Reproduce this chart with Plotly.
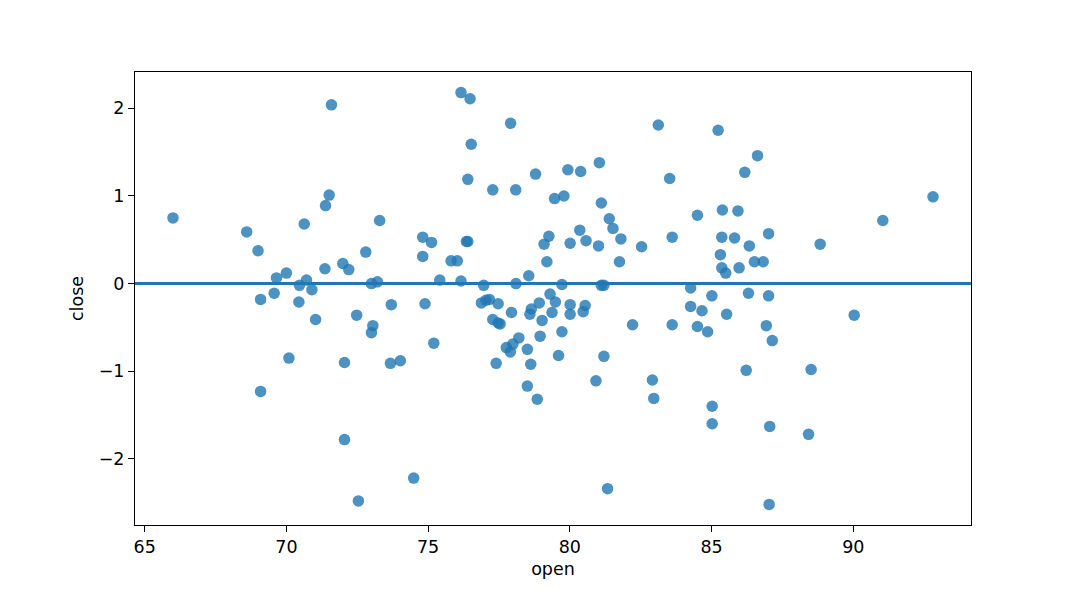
import plotly.graph_objects as go

open_vals = [
    66.0, 68.6, 69.0, 70.0, 69.65, 69.57, 69.09, 70.09, 69.09, 71.59,
    71.51, 71.38, 70.63, 73.29, 74.81, 75.12, 74.81, 72.80, 71.36, 71.99,
    72.20, 70.71, 70.46, 70.90, 73.00, 73.21, 70.44, 73.70, 74.89, 71.03,
    72.48, 73.05, 73.00, 75.20, 72.05, 73.67, 74.02, 72.05, 74.49, 72.54,
    76.16, 76.48, 77.91, 76.52, 76.40, 77.28, 78.09, 76.35, 76.40, 75.81,
    76.03, 75.41, 76.16, 76.96, 78.10, 76.88, 77.04, 77.16, 77.47, 77.94,
    77.28, 77.47, 77.54, 78.20, 77.99, 77.76, 77.90, 77.40, 78.79, 79.93,
    80.38, 81.04, 79.46, 79.79, 81.11, 81.39, 81.52, 79.26, 79.09, 80.35,
    80.57, 80.01, 81.01, 79.19, 78.55, 79.72, 81.11, 81.20, 81.80, 81.75,
    79.30, 78.92, 79.49, 80.01, 80.54, 80.47, 80.01, 79.37, 79.02, 78.95,
    79.72, 79.60, 81.20, 80.92, 78.64, 78.59, 78.50, 78.62, 78.50, 78.85,
    81.33, 83.12, 83.52, 82.53, 83.61, 84.50, 84.26, 84.26, 84.66, 82.21,
    83.61, 84.50, 84.86, 82.91, 82.96, 85.02, 85.02, 85.38, 85.93, 85.36,
    85.81, 87.01, 86.33, 85.31, 85.36, 85.50, 85.97, 86.51, 86.82, 85.01,
    86.30, 87.01, 85.53, 86.93, 85.23, 86.62, 86.17, 88.83, 87.14, 86.22,
    88.51, 87.05, 88.42, 87.03, 91.04, 92.81, 90.03,
]

close_resid = [
    0.75, 0.59, 0.375, 0.12, 0.065, -0.11, -0.18, -0.85, -1.23, 2.04,
    1.01, 0.89, 0.68, 0.72, 0.53, 0.47, 0.31, 0.36, 0.17, 0.23,
    0.16, 0.04, -0.02, -0.07, 0.00, 0.02, -0.21, -0.24, -0.23, -0.41,
    -0.36, -0.48, -0.56, -0.68, -0.90, -0.91, -0.88, -1.78, -2.22, -2.48,
    2.18, 2.11, 1.83, 1.59, 1.19, 1.07, 1.07, 0.48, 0.48, 0.26,
    0.26, 0.04, 0.03, -0.02, 0.00, -0.22, -0.19, -0.18, -0.23, -0.33,
    -0.41, -0.45, -0.46, -0.62, -0.69, -0.73, -0.78, -0.91, 1.25, 1.30,
    1.28, 1.38, 0.97, 1.00, 0.92, 0.74, 0.63, 0.54, 0.45, 0.61,
    0.49, 0.46, 0.43, 0.25, 0.09, -0.01, -0.02, -0.02, 0.51, 0.25,
    -0.12, -0.22, -0.21, -0.24, -0.25, -0.32, -0.35, -0.33, -0.42, -0.60,
    -0.55, -0.82, -0.83, -1.11, -0.29, -0.35, -0.75, -0.92, -1.17, -1.32,
    -2.34, 1.81, 1.20, 0.42, 0.53, 0.78, -0.05, -0.26, -0.31, -0.47,
    -0.47, -0.49, -0.55, -1.10, -1.31, -1.40, -1.60, 0.84, 0.83, 0.53,
    0.52, 0.57, 0.43, 0.33, 0.18, 0.12, 0.18, 0.25, 0.25, -0.14,
    -0.11, -0.14, -0.35, -0.48, 1.75, 1.46, 1.27, 0.45, -0.65, -0.99,
    -0.98, -1.63, -1.72, -2.52, 0.72, 0.99, -0.36,
]

x_ticks = [65, 70, 75, 80, 85, 90]
y_ticks = [-2, -1, 0, 1, 2]

xmin, xmax = min(open_vals), max(open_vals)
xpad = (xmax - xmin) * 0.05
ymin, ymax = min(close_resid), max(close_resid)
ypad = (ymax - ymin) * 0.05
x_range = [xmin - xpad, xmax + xpad]
y_range = [ymin - ypad, ymax + ypad]

blue = "#1f77b4"
fsize = 17.5

fig = go.Figure()
fig.add_trace(go.Scatter(
    x=open_vals, y=close_resid, mode="markers",
    marker=dict(color=blue, size=11.5, opacity=0.8, line=dict(width=0)),
    showlegend=False, hoverinfo="skip",
))
fig.add_trace(go.Scatter(
    x=x_range, y=[0, 0], mode="lines",
    line=dict(color=blue, width=3),
    showlegend=False, hoverinfo="skip",
))

axis_common = dict(
    showgrid=False, zeroline=False, showline=True, linecolor="black",
    linewidth=1, mirror=True, ticks="outside", ticklen=6, tickwidth=1,
    tickcolor="black", tickfont=dict(family="DejaVu Sans", size=fsize, color="black"),
)

fig.update_layout(
    width=1080, height=590,
    margin=dict(l=127, r=117, t=64, b=73),
    paper_bgcolor="white", plot_bgcolor="white",
    font=dict(family="DejaVu Sans", size=fsize, color="black"),
    xaxis=dict(range=x_range, tickvals=x_ticks,
               title=dict(text="open", standoff=6, font=dict(size=fsize)),
               **axis_common),
    yaxis=dict(range=y_range, tickvals=y_ticks,
               title=dict(text="close", standoff=10, font=dict(size=fsize)),
               **axis_common),
)

fig.write_html("out.html")
